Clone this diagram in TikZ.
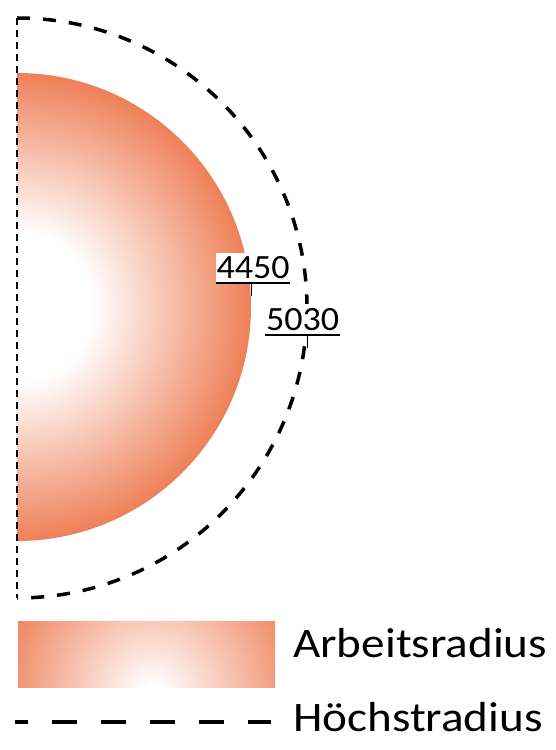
\documentclass[tikz,border=0pt]{standalone}
\usepackage{fontspec}
\usepackage{graphicx}
\newfontfamily\carl{Carlito}
\definecolor{orng}{RGB}{238,128,88}
\pgfdeclareradialshading{arbsh}{\pgfpointorigin}{color(0bp)=(white); color(8bp)=(white); color(25bp)=(orng); color(50bp)=(orng)}
\pgfdeclareradialshading{legsh}{\pgfpointorigin}{color(0bp)=(white); color(1bp)=(white); color(25bp)=(orng); color(50bp)=(orng)}
\begin{document}
\begin{tikzpicture}[x=1pt,y=1pt,
 maxr/.style={line width=3.5pt, dash pattern=on 13pt off 13pt},
 axisline/.style={line width=1.2pt, dash pattern=on 7pt off 5pt},
 lbl/.style={fill=white, inner sep=0pt, anchor=south west, minimum height=30pt, font=\carl\fontsize{34}{36}\selectfont},
 uline/.style={line width=2.5pt},
 tickline/.style={line width=1pt},
 legline/.style={line width=4pt, dash pattern=on 25pt off 24pt, dash phase=12pt},
 legtext/.style={anchor=base west, inner sep=0pt, font=\carl\fontsize{42}{50}\selectfont}]
\useasboundingbox (0,0) rectangle (556,750);
\coordinate (C) at (17,443);
\coordinate (top) at (17,732);
\coordinate (bot) at (17,152);
\begin{scope}
\clip (17,0) rectangle (556,750);
\shade[shading=arbsh] (C) circle (234pt);
\end{scope}
\draw[maxr] (top) arc[start angle=90, end angle=-90, radius=290pt];
\draw[axisline] (top) -- (bot);
\node[lbl, minimum width=74pt] (l1) at (216,467) {\scalebox{1.06}[1]{4450}};
\draw[uline] (l1.south west) -- (l1.south east);
\draw[tickline] (l1.south west) ++(35pt,0) -- ++(0,-13pt);
\node[lbl, minimum width=75pt, minimum height=31pt] (l2) at (265,415) {\scalebox{1.06}[1]{5030}};
\draw[uline] (l2.south west) -- (l2.south east);
\draw[tickline] (l2.south west) ++(42pt,0) -- ++(0,-13pt);
\begin{scope}
\clip (18,62) rectangle (275,128);
\shade[shading=legsh] (152,58) circle (160pt);
\end{scope}
\coordinate (d1) at (15,28);
\coordinate (d2) at (271,28);
\draw[legline] (d1) -- (d2);
\node[legtext] (t1) at (293,92) {\scalebox{1.123}[1]{Arbeitsradius}};
\node[legtext] (t2) at (293,18) {\scalebox{1.123}[1]{Höchstradius}};
\end{tikzpicture}
\end{document}
